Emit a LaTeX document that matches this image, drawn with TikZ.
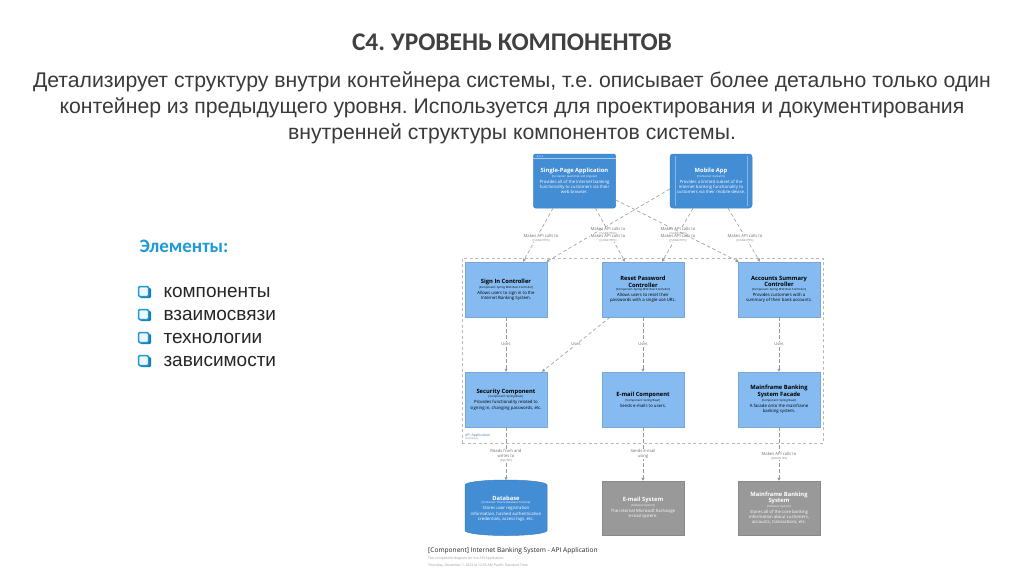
\documentclass[tikz,border=0pt]{standalone}
\usepackage{fontspec}
\setmainfont{Liberation Sans}
\newfontfamily\ttlfont{Carlito}
\newfontfamily\dgfont{Open Sans}
\usetikzlibrary{arrows.meta}
\frenchspacing
\definecolor{titlegray}{HTML}{404040}
\definecolor{subgray}{HTML}{3A3A3A}
\definecolor{elblue}{HTML}{1F9AD8}
\definecolor{listgray}{HTML}{262626}
\definecolor{compfill}{HTML}{85BBF0}
\definecolor{compdraw}{HTML}{78A8D8}
\definecolor{contfill}{HTML}{438DD5}
\definecolor{contdraw}{HTML}{3C7FC0}
\definecolor{extfill}{HTML}{999999}
\definecolor{extdraw}{HTML}{8A8A8A}
\definecolor{relgray}{HTML}{999999}
\definecolor{lblgray}{HTML}{707070}
\definecolor{bndgray}{HTML}{B8B8B8}
\definecolor{bndtext}{HTML}{5B7FA8}
\newcommand\BoxTxt[3]{\spaceskip=0pt\xspaceskip=0pt{\fontsize{5.8}{6.6}\selectfont\bfseries #1\par}\vspace{0.3pt}{\fontsize{2.8}{3.4}\selectfont #2\par}\vspace{0.8pt}{\fontsize{4.3}{5.2}\selectfont #3\par}}
\newcommand\RelLbl[2]{#1\\[-1.6pt]{\fontsize{2.6}{3}\selectfont #2}}
\begin{document}
\begin{tikzpicture}[x=1pt,y=-1pt,
  box/.style={rectangle, minimum width=82pt, minimum height=55pt, inner sep=1pt, align=flush center, text width=80pt, font={\dgfont\fontsize{4.3}{5.2}\selectfont}},
  comp/.style={box, fill=compfill, draw=compdraw, line width=0.5pt, text=black},
  cont/.style={box, fill=contfill, draw=contdraw, line width=0.5pt, text=white},
  ext/.style={box, fill=extfill, draw=extdraw, line width=0.5pt, text=white},
  rel/.style={draw=relgray, line width=0.6pt, dash pattern=on 3.5pt off 2.5pt, -{Triangle[length=3pt,width=3pt]}},
  lbl/.style={font={\dgfont\fontsize{4.2}{5.6}\selectfont}, text=lblgray, align=center, fill=white, inner sep=0.6pt},
  listitem/.style={anchor=west, text=listgray, font={\fontsize{19}{22}\selectfont}}]
\useasboundingbox (0,0) rectangle (1024,574);
\fill[white] (0,0) rectangle (1024,574);

% title and subtitle
\node[text=titlegray, font={\ttlfont\bfseries\fontsize{25.4}{28}\selectfont}] (title) at (512,42) {C4. УРОВЕНЬ КОМПОНЕНТОВ};
\node[text=subgray, align=center, font={\fontsize{21.2}{26}\selectfont}] (sub) at (512,107.5)
 {Детализирует структуру внутри контейнера системы, т.е. описывает более детально только один\\
  контейнер из предыдущего уровня. Используется для проектирования и документирования\\
  внутренней структуры компонентов системы.};

% left list
\node[anchor=west, text=elblue, font={\ttlfont\bfseries\fontsize{19}{22}\selectfont}] (el) at (136,246) {Элементы:};
\foreach \yy in {292,315,338,361}{
  \fill[rounded corners=1.2pt, fill=elblue!80!black] (140,\yy-4) rectangle (151,\yy+6);
  \filldraw[rounded corners=1.2pt, fill=elblue!8, draw=elblue, line width=1.5pt] (138.5,\yy-5.5) rectangle (148.5,\yy+4.5);
}
\node[listitem] (l1) at (160,292) {компоненты};
\node[listitem] (l2) at (160,315) {взаимосвязи};
\node[listitem] (l3) at (160,338) {технологии};
\node[listitem] (l4) at (160,361) {зависимости};

% boundary
\node[draw=bndgray, line width=0.6pt, dash pattern=on 3pt off 2.5pt, minimum width=361pt, minimum height=185pt, inner sep=0pt] (api) at (642.5,350.5) {};
\node[anchor=south west, inner sep=0pt, align=left, font={\dgfont\fontsize{3.6}{4.2}\selectfont}, text=bndtext] (apilbl) at (465,440.5)
 {API Application\\[-1.2pt]{\fontsize{2.4}{2.8}\selectfont [Container]}};

% containers on top
\node[cont, rounded corners=2pt, minimum height=54pt] (spa) at (574.5,181)
 {\BoxTxt{Single-Page Application}{[Container: JavaScript and Angular]}{Provides all of the Internet banking\\functionality to customers via their\\web browser.}};
\draw[white!55!contfill, line width=0.4pt] ([yshift=-4.5pt]spa.north west) -- ([yshift=-4.5pt]spa.north east);
\foreach \dx in {4,6.5,9} \fill[white!50!contfill] ([xshift=\dx pt, yshift=-2.3pt]spa.north west) circle (0.8pt);
\node[cont, rounded corners=3pt, minimum height=54pt] (mob) at (711,181)
 {\BoxTxt{Mobile App}{[Container: Xamarin]}{Provides a limited subset of the\\Internet banking functionality to\\customers via their mobile device.}};
\draw[white!35!contfill, line width=0.4pt] ([xshift=5pt,yshift=-2pt]mob.north west) -- ([xshift=5pt,yshift=2pt]mob.south west);
\draw[white!35!contfill, line width=0.4pt] ([xshift=-5pt,yshift=-2pt]mob.north east) -- ([xshift=-5pt,yshift=2pt]mob.south east);

% components
\node[comp] (signin) at (506,289.5)
 {\BoxTxt{Sign In Controller}{[Component: Spring MVC Rest Controller]}{Allows users to sign in to the\\Internet Banking System.}};
\node[comp] (reset) at (643,289.5)
 {\BoxTxt{Reset Password\\Controller}{[Component: Spring MVC Rest Controller]}{Allows users to reset their\\passwords with a single use URL.}};
\node[comp] (accts) at (779,289.5)
 {\BoxTxt{Accounts Summary\\Controller}{[Component: Spring MVC Rest Controller]}{Provides customers with a\\summary of their bank accounts.}};
\node[comp] (sec) at (506,399.5)
 {\BoxTxt{Security Component}{[Component: Spring Bean]}{Provides functionality related to\\signing in, changing passwords, etc.}};
\node[comp] (mailc) at (643,399.5)
 {\BoxTxt{E-mail Component}{[Component: Spring Bean]}{Sends e-mails to users.}};
\node[comp] (facade) at (779,399.5)
 {\BoxTxt{Mainframe Banking\\System Facade}{[Component: Spring Bean]}{A facade onto the mainframe\\banking system.}};

% bottom row
\path[fill=contfill, draw=contdraw, line width=0.5pt] (465,485) -- (465,530.5)
  arc[start angle=180, end angle=0, x radius=41, y radius=5] -- (547,485)
  arc[start angle=0, end angle=-180, x radius=41, y radius=5] -- cycle;
\node[box, text=white, minimum height=56pt] (db) at (506,508.5)
 {\BoxTxt{Database}{[Container: Oracle Database Schema]}{Stores user registration\\information, hashed authentication\\credentials, access logs, etc.}};
\node[ext, minimum height=54pt] (mailsys) at (643,508)
 {\BoxTxt{E-mail System}{[Software System]}{The internal Microsoft Exchange\\e-mail system.}};
\node[ext, minimum height=54pt] (mainf) at (779,508)
 {\BoxTxt{Mainframe Banking\\System}{[Software System]}{Stores all of the core banking\\information about customers,\\accounts, transactions, etc.}};

% relationships: top
\draw[rel] ([xshift=-21.5pt]spa.south) -- ([xshift=17pt]signin.north);
\node[lbl] (r1) at (541,238) {\RelLbl{Makes API calls to}{[JSON/HTTPS]}};
\draw[rel] ([xshift=21pt]spa.south) -- ([xshift=-18pt]reset.north);
\node[lbl] (r2) at (608,231) {\RelLbl{Makes API calls to}{[JSON/HTTPS]}};
\draw[rel] ([yshift=-8pt]mob.west) -- ([xshift=-1pt]signin.north east);
\node[lbl] (r3) at (608,238) {\RelLbl{Makes API calls to}{[JSON/HTTPS]}};
\draw[rel] ([xshift=-18pt]mob.south) -- ([xshift=19pt]reset.north);
\node[lbl] (r4) at (678,231) {\RelLbl{Makes API calls to}{[JSON/HTTPS]}};
\node[lbl] (r5) at (678,238) {\RelLbl{Makes API calls to}{[JSON/HTTPS]}};
\draw[rel] ([yshift=-19pt]spa.east) -- ([xshift=1pt]accts.north west);
\draw[rel] ([xshift=17pt]mob.south) -- ([xshift=-19pt]accts.north);
\node[lbl] (r6) at (745,238) {\RelLbl{Makes API calls to}{[JSON/HTTPS]}};

% uses
\draw[rel] (signin.south) -- (sec.north) node[lbl, midway] {Uses};
\draw[rel] ([xshift=-33pt]reset.south) -- ([xshift=36pt]sec.north) node[lbl, midway] {Uses};
\draw[rel] (reset.south) -- (mailc.north) node[lbl, midway] {Uses};
\draw[rel] (accts.south) -- (facade.north) node[lbl, midway] {Uses};

% bottom relations
\draw[rel] (sec.south) -- (db.north);
\node[lbl] (b1) at (506,456) {Reads from and\\[-0.5pt]writes to\\[-1.6pt]{\fontsize{2.6}{3}\selectfont [SQL/TCP]}};
\draw[rel] (mailc.south) -- (mailsys.north);
\node[lbl] (b2) at (643,454) {Sends e-mail\\[-0.5pt]using};
\draw[rel] (facade.south) -- (mainf.north);
\node[lbl] (b3) at (779,456) {\RelLbl{Makes API calls to}{[XML/HTTPS]}};

% footer
\node[anchor=west, inner sep=0pt, font={\dgfont\fontsize{6.6}{7.5}\selectfont}, text=black!85] (f1) at (428,551) {[Component] Internet Banking System - API Application};
\node[anchor=west, inner sep=0pt, font={\dgfont\fontsize{3.4}{4}\selectfont}, text=black!40] (f2) at (428,559) {The component diagram for the API Application.};
\node[anchor=west, inner sep=0pt, font={\dgfont\fontsize{3.4}{4}\selectfont}, text=black!40] (f3) at (428,565.5) {Thursday, December 7, 2023 at 12:35 AM Pacific Standard Time};
\end{tikzpicture}
\end{document}
